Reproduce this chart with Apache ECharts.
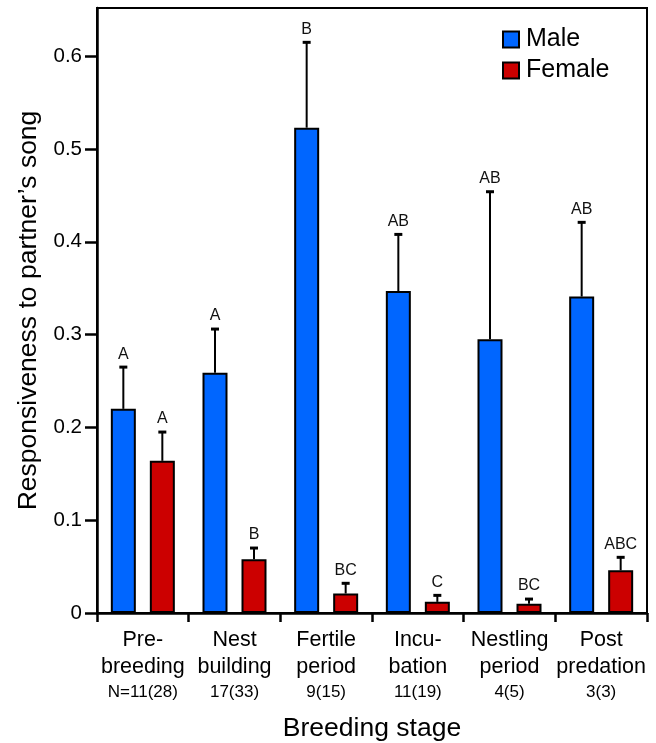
<!DOCTYPE html>
<html>
<head>
<meta charset="utf-8">
<script src="https://cdn.jsdelivr.net/npm/echarts@6/dist/echarts.min.js"></script>
<style>
  html, body { margin: 0; padding: 0; background: #fff; }
  #main { width: 656px; height: 743px; }
</style>
</head>
<body>
<div id="main"></div>
<script>
// breeding stages (two text lines each) and sample sizes
var stages = ['Pre-\nbreeding', 'Nest\nbuilding', 'Fertile\nperiod', 'Incu-\nbation', 'Nestling\nperiod', 'Post\npredation'];
var sampleN = ['N=11(28)', '17(33)', '9(15)', '11(19)', '4(5)', '3(3)'];

// mean responsiveness and upper end of error bar
var maleMean = [0.220, 0.259, 0.523, 0.347, 0.295, 0.341];
var maleUpper = [0.265, 0.306, 0.615, 0.408, 0.454, 0.421];
var femaleMean = [0.164, 0.058, 0.021, 0.012, 0.010, 0.046];
var femaleUpper = [0.195, 0.070, 0.032, 0.019, 0.015, 0.060];

// significance letters
var maleLetters = ['A', 'A', 'B', 'AB', 'AB', 'AB'];
var femaleLetters = ['A', 'B', 'BC', 'C', 'BC', 'ABC'];

var yTicks = [0, 0.1, 0.2, 0.3, 0.4, 0.5, 0.6];

var FONT = '"Liberation Sans", Arial, Helvetica, sans-serif';
var BAR_W = 25;
var BAR_GAP = 14;

function errData(mean, upper) {
  return mean.map(function (m, i) { return [i, m, upper[i]]; });
}

function errSeries(mean, upper, letters, side) {
  return {
    type: 'custom',
    z: 5,
    data: errData(mean, upper),
    renderItem: function (params, api) {
      var i = api.value(0);
      var base = api.coord([i, api.value(1)]);
      var tip = api.coord([i, api.value(2)]);
      var x = base[0] + side * (BAR_W + BAR_GAP) / 2;
      return {
        type: 'group',
        children: [
          { type: 'line', shape: { x1: x, y1: base[1], x2: x, y2: tip[1] }, style: { stroke: '#000', lineWidth: 2 } },
          { type: 'line', shape: { x1: x - 4, y1: tip[1], x2: x + 4, y2: tip[1] }, style: { stroke: '#000', lineWidth: 3 } },
          { type: 'text', style: { text: letters[i], x: x, y: tip[1] - 5, align: 'center', verticalAlign: 'bottom', font: '16px ' + FONT, fill: '#111' } }
        ]
      };
    }
  };
}

var chart = echarts.init(document.getElementById('main'));

var option = {
  backgroundColor: '#fff',
  animation: false,
  textStyle: { fontFamily: FONT },
  grid: {
    left: 97, right: 9, top: 8, bottom: 130,
    outerBoundsMode: 'none',
    show: true, borderColor: '#000', borderWidth: 2
  },
  legend: {
    data: ['Male', 'Female'],
    orient: 'vertical',
    left: 497, top: 22,
    itemWidth: 16, itemHeight: 16, itemGap: 6,
    icon: 'rect',
    textStyle: { fontSize: 25, lineHeight: 22, color: '#000', fontFamily: FONT, padding: [0, 0, 0, 2] }
  },
  xAxis: {
    type: 'category',
    data: stages,
    name: 'Breeding stage',
    nameLocation: 'middle',
    nameGap: 102,
    nameTextStyle: { fontSize: 26.5, color: '#000', fontFamily: FONT },
    axisLine: { lineStyle: { color: '#000', width: 2.5 } },
    axisTick: { show: true, length: 9, lineStyle: { color: '#000', width: 2.5 } },
    axisLabel: {
      interval: 0,
      margin: 14,
      formatter: function (v, i) {
        var lines = v.split('\n');
        return '{a|' + lines[0] + '}\n{a|' + lines[1] + '}\n{n|' + sampleN[i] + '}';
      },
      rich: {
        a: { fontSize: 21.5, lineHeight: 26.5, color: '#000', fontFamily: FONT },
        n: { fontSize: 17, lineHeight: 25, color: '#000', fontFamily: FONT }
      }
    }
  },
  yAxis: {
    type: 'value',
    min: 0, max: 0.652,
    interval: 0.1,
    name: 'Responsiveness to partner\u2019s song',
    nameLocation: 'middle',
    nameGap: 54,
    nameTextStyle: { fontSize: 26.5, color: '#000', fontFamily: FONT },
    splitLine: { show: false },
    axisLine: { show: true, lineStyle: { color: '#000', width: 2.5 } },
    axisTick: { show: true, length: 12, customValues: yTicks, lineStyle: { color: '#000', width: 2.5 } },
    axisLabel: {
      customValues: yTicks,
      fontSize: 20.5, color: '#000', margin: 15,
      formatter: function (v) { return String(+v.toFixed(1)); }
    }
  },
  series: [
    {
      name: 'Male', type: 'bar', data: maleMean,
      barWidth: BAR_W, barGap: (BAR_GAP / BAR_W * 100) + '%',
      itemStyle: { color: '#0066ff', borderColor: '#000', borderWidth: 2 }
    },
    {
      name: 'Female', type: 'bar', data: femaleMean,
      barWidth: BAR_W,
      itemStyle: { color: '#cc0000', borderColor: '#000', borderWidth: 2 }
    },
    errSeries(maleMean, maleUpper, maleLetters, -1),
    errSeries(femaleMean, femaleUpper, femaleLetters, 1)
  ]
};

chart.setOption(option);
</script>
</body>
</html>
